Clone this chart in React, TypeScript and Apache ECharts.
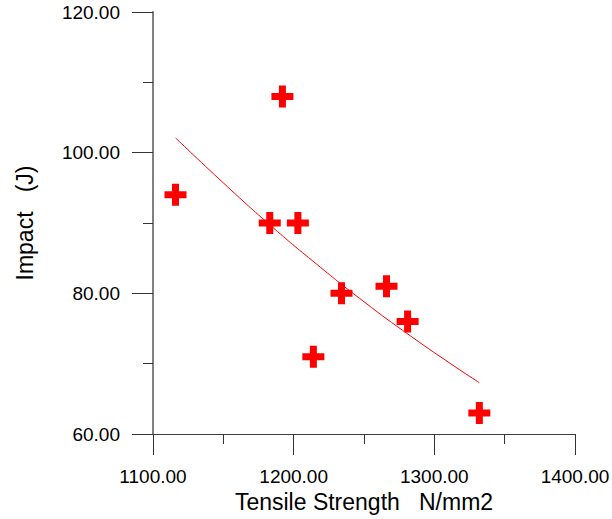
import React, { useEffect, useRef } from "react";
import * as echarts from "echarts";

const pointsX = [1116, 1192, 1183, 1203, 1234, 1266, 1281, 1214, 1332];
const pointsY = [94, 108, 90, 90, 80, 81, 76, 71, 63];
const fitX = [1116, 1150, 1183, 1216, 1250, 1283, 1316, 1332];
const fitY = [102.1, 95.7, 89.75, 84.2, 78.8, 73.95, 69.4, 67.3];
const xTitle = "Tensile Strength   N/mm2";
const yTitle = "Impact   (J)";

const crossPath =
  "path://M7.5,0H14.5V7.5H22V14.5H14.5V22H7.5V14.5H0V7.5H7.5Z";

export default function App() {
  const ref = useRef<HTMLDivElement>(null);
  useEffect(() => {
    if (!ref.current) return;
    const chart = echarts.init(ref.current, null, { renderer: "svg" });
    const font = "Liberation Sans, Arial, sans-serif";
    chart.setOption({
      animation: false,
      backgroundColor: "#ffffff",
      grid: {
        left: 153,
        right: 37,
        top: 12,
        bottom: 85,
        containLabel: false,
        outerBoundsMode: "none",
      },
      xAxis: {
        type: "value",
        min: 1100,
        max: 1400,
        interval: 100,
        name: xTitle,
        nameLocation: "middle",
        nameGap: 54,
        nameTextStyle: { fontSize: 23, color: "#000", fontFamily: font },
        axisLine: { show: true, lineStyle: { color: "#404040", width: 1 } },
        axisTick: { show: true, length: 21, lineStyle: { color: "#333", width: 1 } },
        minorTick: { show: true, splitNumber: 2, length: 10, lineStyle: { color: "#333", width: 1 } },
        splitLine: { show: false },
        axisLabel: {
          margin: 33,
          fontSize: 19,
          color: "#000",
          fontFamily: font,
          hideOverlap: false,
          formatter: (v: number) => v.toFixed(2),
        },
      },
      yAxis: {
        type: "value",
        min: 60,
        max: 120,
        interval: 20,
        name: yTitle,
        nameLocation: "middle",
        nameGap: 117,
        nameTextStyle: { fontSize: 23, color: "#000", fontFamily: font },
        axisLine: { show: true, lineStyle: { color: "#808080", width: 2 } },
        axisTick: { show: true, length: 21, lineStyle: { color: "#333", width: 1 } },
        minorTick: { show: true, splitNumber: 2, length: 10, lineStyle: { color: "#333", width: 1 } },
        splitLine: { show: false },
        axisLabel: {
          margin: 33,
          fontSize: 19,
          color: "#000",
          fontFamily: font,
          formatter: (v: number) => v.toFixed(2),
        },
      },
      series: [
        {
          type: "line",
          data: fitX.map((x, i) => [x, fitY[i]]),
          smooth: true,
          showSymbol: false,
          lineStyle: { color: "#ff0000", width: 1 },
          z: 2,
        },
        {
          type: "scatter",
          data: pointsX.map((x, i) => [x, pointsY[i]]),
          symbol: crossPath,
          symbolSize: 22,
          itemStyle: { color: "#ff0000", opacity: 1 },
          z: 3,
        },
      ],
    });
    return () => chart.dispose();
  }, []);
  return (
    <div
      ref={ref}
      style={{ position: "fixed", left: 0, top: 0, width: 612, height: 519 }}
    />
  );
}
